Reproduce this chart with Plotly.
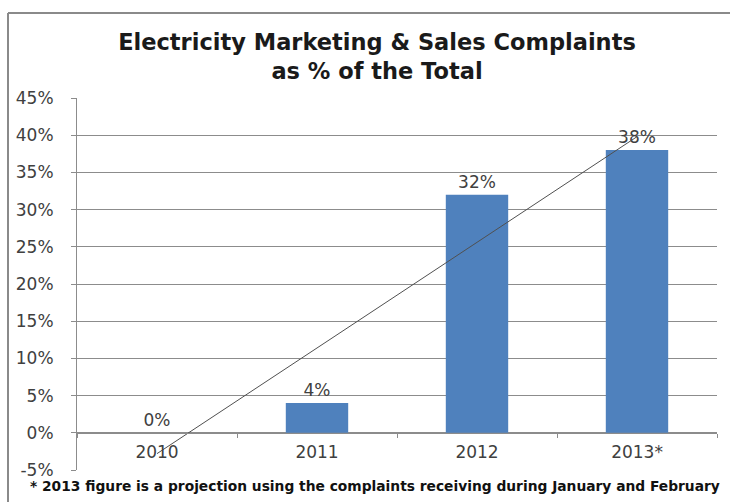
import numpy as np
import plotly.graph_objects as go

categories = ["2010", "2011", "2012", "2013*"]
values = [0, 4, 32, 38]
labels = ["0%", "4%", "32%", "38%"]
y_ticks = [-5, 0, 5, 10, 15, 20, 25, 30, 35, 40, 45]

W, H = 730, 502
L, R, T, B = 77, 13, 98, 32
pw, ph = W - L - R, H - T - B

xi = np.arange(len(values))
slope, icpt = np.polyfit(xi, values, 1)
trend = slope * xi + icpt

FONT = "DejaVu Sans"
fig = go.Figure()
fig.add_trace(go.Bar(
    x=categories, y=values, marker=dict(color="#4F81BD", line=dict(width=0)),
    width=0.39, text=labels, textposition="outside", cliponaxis=False,
    textfont=dict(family=FONT, size=17, color="#404040"),
))
fig.add_trace(go.Scatter(
    x=[categories[0], categories[-1]], y=[trend[0], trend[-1]], mode="lines",
    line=dict(color="#505050", width=1), hoverinfo="skip",
))

def px2paper_x(px):
    return (px - L) / pw

def py2paper_y(py):
    return (H - B - py) / ph

fig.update_layout(
    width=W, height=H, margin=dict(l=L, r=R, t=T, b=B),
    paper_bgcolor="white", plot_bgcolor="white", showlegend=False,
    title=dict(
        text="<b>Electricity Marketing & Sales Complaints<br>as % of the Total</b>",
        x=px2paper_x(377), xref="paper", xanchor="center", y=1 - 50 / H, yanchor="middle",
        font=dict(family=FONT, size=22.5, color="#1a1a1a"),
    ),
    xaxis=dict(
        type="category", anchor="free", position=5 / 50,
        showgrid=False, showline=True, linecolor="#8c8c8c", linewidth=1,
        ticks="outside", ticklen=4, tickcolor="#8c8c8c", tickson="boundaries",
        tickfont=dict(family=FONT, size=17, color="#404040"),
        ticklabelstandoff=4,
        range=[-0.5, 3.5], zeroline=False,
    ),
    yaxis=dict(
        range=[-5, 45], tickvals=y_ticks, ticktext=[f"{v}%" for v in y_ticks],
        showgrid=True, gridcolor="#8c8c8c", gridwidth=1, zeroline=False,
        showline=True, linecolor="#8c8c8c", linewidth=1,
        ticks="outside", ticklen=5, tickcolor="#8c8c8c",
        ticklabelstandoff=14,
        tickfont=dict(family=FONT, size=17, color="#404040"),
    ),
    shapes=[
        dict(type="line", xref="paper", yref="paper",
             x0=px2paper_x(8), x1=px2paper_x(730), y0=py2paper_y(13), y1=py2paper_y(13),
             line=dict(color="#8a8a8a", width=2), layer="below"),
        dict(type="line", xref="paper", yref="paper",
             x0=px2paper_x(8), x1=px2paper_x(8), y0=py2paper_y(13), y1=py2paper_y(502),
             line=dict(color="#8a8a8a", width=2), layer="below"),
    ],
    annotations=[dict(
        text="<b>* 2013 figure is a projection using the complaints receiving during January and February</b>",
        xref="paper", yref="paper", x=px2paper_x(375), y=py2paper_y(486),
        xanchor="center", yanchor="middle", showarrow=False,
        font=dict(family=FONT, size=13.8, color="#111111"),
    )],
)

fig.write_html("out.html")
